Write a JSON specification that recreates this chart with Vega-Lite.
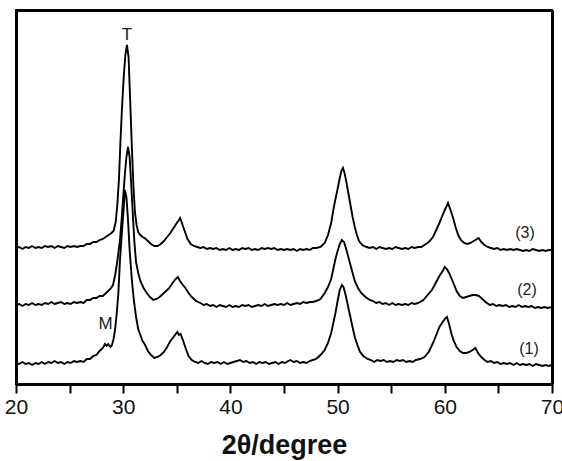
{
  "$schema": "https://vega.github.io/schema/vega-lite/v6.json",
  "width": 536,
  "height": 374,
  "autosize": {"type": "none"},
  "padding": {"left": 16, "top": 10, "right": 10, "bottom": 77},
  "background": "white",
  "config": {
    "view": {"stroke": "black", "strokeWidth": 2},
    "font": "Liberation Sans"
  },
  "resolve": {"axis": {"x": "independent", "y": "independent"}},
  "datasets": {
    "curves": [
      {"x":20.0,"I":22,"s":"1"},{"x":20.3,"I":21,"s":"1"},{"x":20.6,"I":23,"s":"1"},{"x":20.9,"I":21,"s":"1"},{"x":21.2,"I":22,"s":"1"},{"x":21.5,"I":20,"s":"1"},{"x":21.8,"I":22,"s":"1"},{"x":22.1,"I":21,"s":"1"},{"x":22.4,"I":23,"s":"1"},{"x":22.7,"I":21,"s":"1"},{"x":23.0,"I":23,"s":"1"},{"x":23.3,"I":22,"s":"1"},{"x":23.6,"I":24,"s":"1"},{"x":23.9,"I":22,"s":"1"},{"x":24.2,"I":23,"s":"1"},{"x":24.5,"I":21,"s":"1"},{"x":24.8,"I":23,"s":"1"},{"x":25.1,"I":22,"s":"1"},{"x":25.4,"I":24,"s":"1"},{"x":25.7,"I":23,"s":"1"},{"x":26.0,"I":24,"s":"1"},{"x":26.3,"I":23,"s":"1"},{"x":26.6,"I":26,"s":"1"},{"x":26.9,"I":26,"s":"1"},{"x":27.2,"I":29,"s":"1"},{"x":27.5,"I":30,"s":"1"},{"x":27.8,"I":34,"s":"1"},{"x":28.1,"I":37,"s":"1"},{"x":28.3,"I":41,"s":"1"},{"x":28.45,"I":39,"s":"1"},{"x":28.6,"I":41,"s":"1"},{"x":28.8,"I":38,"s":"1"},{"x":28.95,"I":40,"s":"1"},{"x":29.1,"I":46,"s":"1"},{"x":29.25,"I":56,"s":"1"},{"x":29.4,"I":72,"s":"1"},{"x":29.55,"I":92,"s":"1"},{"x":29.7,"I":125,"s":"1"},{"x":29.85,"I":148,"s":"1"},{"x":30.0,"I":170,"s":"1"},{"x":30.16,"I":195,"s":"1"},{"x":30.3,"I":188,"s":"1"},{"x":30.45,"I":165,"s":"1"},{"x":30.6,"I":135,"s":"1"},{"x":30.8,"I":106,"s":"1"},{"x":31.0,"I":84,"s":"1"},{"x":31.2,"I":68,"s":"1"},{"x":31.4,"I":56,"s":"1"},{"x":31.6,"I":50,"s":"1"},{"x":31.8,"I":44,"s":"1"},{"x":32.0,"I":41,"s":"1"},{"x":32.3,"I":34,"s":"1"},{"x":32.6,"I":30,"s":"1"},{"x":32.9,"I":27,"s":"1"},{"x":33.2,"I":28,"s":"1"},{"x":33.5,"I":30,"s":"1"},{"x":33.8,"I":33,"s":"1"},{"x":34.1,"I":38,"s":"1"},{"x":34.4,"I":44,"s":"1"},{"x":34.7,"I":48,"s":"1"},{"x":34.9,"I":51,"s":"1"},{"x":35.05,"I":53,"s":"1"},{"x":35.2,"I":50,"s":"1"},{"x":35.35,"I":51,"s":"1"},{"x":35.6,"I":44,"s":"1"},{"x":35.85,"I":36,"s":"1"},{"x":36.1,"I":29,"s":"1"},{"x":36.4,"I":25,"s":"1"},{"x":36.7,"I":23,"s":"1"},{"x":37.0,"I":22,"s":"1"},{"x":37.3,"I":24,"s":"1"},{"x":37.6,"I":22,"s":"1"},{"x":37.9,"I":21,"s":"1"},{"x":38.2,"I":23,"s":"1"},{"x":38.5,"I":22,"s":"1"},{"x":38.8,"I":23,"s":"1"},{"x":39.1,"I":21,"s":"1"},{"x":39.4,"I":23,"s":"1"},{"x":39.7,"I":21,"s":"1"},{"x":40.0,"I":22,"s":"1"},{"x":40.3,"I":23,"s":"1"},{"x":40.6,"I":24,"s":"1"},{"x":40.9,"I":25,"s":"1"},{"x":41.2,"I":23,"s":"1"},{"x":41.5,"I":24,"s":"1"},{"x":41.8,"I":22,"s":"1"},{"x":42.1,"I":23,"s":"1"},{"x":42.4,"I":21,"s":"1"},{"x":42.7,"I":23,"s":"1"},{"x":43.0,"I":22,"s":"1"},{"x":43.3,"I":23,"s":"1"},{"x":43.6,"I":21,"s":"1"},{"x":43.9,"I":22,"s":"1"},{"x":44.2,"I":23,"s":"1"},{"x":44.5,"I":21,"s":"1"},{"x":44.8,"I":23,"s":"1"},{"x":45.1,"I":22,"s":"1"},{"x":45.4,"I":24,"s":"1"},{"x":45.6,"I":25,"s":"1"},{"x":45.9,"I":23,"s":"1"},{"x":46.2,"I":24,"s":"1"},{"x":46.5,"I":22,"s":"1"},{"x":46.8,"I":23,"s":"1"},{"x":47.1,"I":22,"s":"1"},{"x":47.4,"I":24,"s":"1"},{"x":47.7,"I":25,"s":"1"},{"x":48.0,"I":26,"s":"1"},{"x":48.4,"I":30,"s":"1"},{"x":48.8,"I":35,"s":"1"},{"x":49.1,"I":42,"s":"1"},{"x":49.4,"I":52,"s":"1"},{"x":49.6,"I":62,"s":"1"},{"x":49.8,"I":72,"s":"1"},{"x":50.0,"I":84,"s":"1"},{"x":50.2,"I":95,"s":"1"},{"x":50.4,"I":100,"s":"1"},{"x":50.55,"I":98,"s":"1"},{"x":50.75,"I":90,"s":"1"},{"x":50.95,"I":80,"s":"1"},{"x":51.15,"I":70,"s":"1"},{"x":51.35,"I":60,"s":"1"},{"x":51.6,"I":48,"s":"1"},{"x":51.85,"I":40,"s":"1"},{"x":52.1,"I":33,"s":"1"},{"x":52.4,"I":29,"s":"1"},{"x":52.8,"I":26,"s":"1"},{"x":53.1,"I":25,"s":"1"},{"x":53.4,"I":23,"s":"1"},{"x":53.7,"I":25,"s":"1"},{"x":54.0,"I":24,"s":"1"},{"x":54.3,"I":25,"s":"1"},{"x":54.6,"I":23,"s":"1"},{"x":54.9,"I":24,"s":"1"},{"x":55.2,"I":23,"s":"1"},{"x":55.5,"I":25,"s":"1"},{"x":55.8,"I":24,"s":"1"},{"x":56.1,"I":25,"s":"1"},{"x":56.4,"I":23,"s":"1"},{"x":56.7,"I":24,"s":"1"},{"x":57.0,"I":23,"s":"1"},{"x":57.3,"I":25,"s":"1"},{"x":57.7,"I":26,"s":"1"},{"x":58.1,"I":28,"s":"1"},{"x":58.5,"I":33,"s":"1"},{"x":58.9,"I":42,"s":"1"},{"x":59.2,"I":50,"s":"1"},{"x":59.5,"I":58,"s":"1"},{"x":59.8,"I":63,"s":"1"},{"x":60.0,"I":66,"s":"1"},{"x":60.2,"I":68,"s":"1"},{"x":60.4,"I":61,"s":"1"},{"x":60.6,"I":52,"s":"1"},{"x":60.8,"I":45,"s":"1"},{"x":61.1,"I":38,"s":"1"},{"x":61.4,"I":34,"s":"1"},{"x":61.7,"I":32,"s":"1"},{"x":62.0,"I":32,"s":"1"},{"x":62.3,"I":33,"s":"1"},{"x":62.6,"I":35,"s":"1"},{"x":62.85,"I":37,"s":"1"},{"x":63.1,"I":32,"s":"1"},{"x":63.4,"I":28,"s":"1"},{"x":63.7,"I":25,"s":"1"},{"x":64.0,"I":23,"s":"1"},{"x":64.3,"I":24,"s":"1"},{"x":64.6,"I":22,"s":"1"},{"x":64.9,"I":23,"s":"1"},{"x":65.2,"I":21,"s":"1"},{"x":65.5,"I":22,"s":"1"},{"x":65.8,"I":21,"s":"1"},{"x":66.1,"I":22,"s":"1"},{"x":66.4,"I":20,"s":"1"},{"x":66.7,"I":22,"s":"1"},{"x":67.0,"I":20,"s":"1"},{"x":67.3,"I":21,"s":"1"},{"x":67.6,"I":20,"s":"1"},{"x":67.9,"I":21,"s":"1"},{"x":68.2,"I":19,"s":"1"},{"x":68.5,"I":21,"s":"1"},{"x":68.8,"I":20,"s":"1"},{"x":69.1,"I":19,"s":"1"},{"x":69.4,"I":20,"s":"1"},{"x":69.7,"I":19,"s":"1"},{"x":70.0,"I":20,"s":"1"},

      {"x":20.0,"I":80,"s":"2"},{"x":20.3,"I":81,"s":"2"},{"x":20.6,"I":79,"s":"2"},{"x":20.9,"I":81,"s":"2"},{"x":21.2,"I":80,"s":"2"},{"x":21.5,"I":82,"s":"2"},{"x":21.8,"I":80,"s":"2"},{"x":22.1,"I":81,"s":"2"},{"x":22.4,"I":80,"s":"2"},{"x":22.7,"I":82,"s":"2"},{"x":23.0,"I":81,"s":"2"},{"x":23.3,"I":83,"s":"2"},{"x":23.6,"I":81,"s":"2"},{"x":23.9,"I":82,"s":"2"},{"x":24.2,"I":83,"s":"2"},{"x":24.5,"I":81,"s":"2"},{"x":24.8,"I":82,"s":"2"},{"x":25.1,"I":81,"s":"2"},{"x":25.4,"I":83,"s":"2"},{"x":25.7,"I":82,"s":"2"},{"x":26.0,"I":83,"s":"2"},{"x":26.3,"I":82,"s":"2"},{"x":26.6,"I":85,"s":"2"},{"x":26.9,"I":85,"s":"2"},{"x":27.2,"I":87,"s":"2"},{"x":27.5,"I":87,"s":"2"},{"x":27.8,"I":89,"s":"2"},{"x":28.1,"I":89,"s":"2"},{"x":28.4,"I":92,"s":"2"},{"x":28.8,"I":96,"s":"2"},{"x":29.05,"I":100,"s":"2"},{"x":29.25,"I":110,"s":"2"},{"x":29.4,"I":120,"s":"2"},{"x":29.55,"I":132,"s":"2"},{"x":29.7,"I":145,"s":"2"},{"x":29.85,"I":165,"s":"2"},{"x":30.0,"I":188,"s":"2"},{"x":30.15,"I":210,"s":"2"},{"x":30.3,"I":228,"s":"2"},{"x":30.45,"I":238,"s":"2"},{"x":30.6,"I":228,"s":"2"},{"x":30.75,"I":200,"s":"2"},{"x":30.9,"I":170,"s":"2"},{"x":31.05,"I":142,"s":"2"},{"x":31.2,"I":123,"s":"2"},{"x":31.4,"I":112,"s":"2"},{"x":31.6,"I":104,"s":"2"},{"x":31.9,"I":97,"s":"2"},{"x":32.2,"I":92,"s":"2"},{"x":32.5,"I":88,"s":"2"},{"x":32.8,"I":85,"s":"2"},{"x":33.1,"I":86,"s":"2"},{"x":33.4,"I":88,"s":"2"},{"x":33.7,"I":91,"s":"2"},{"x":34.0,"I":94,"s":"2"},{"x":34.3,"I":97,"s":"2"},{"x":34.6,"I":102,"s":"2"},{"x":34.9,"I":106,"s":"2"},{"x":35.1,"I":108,"s":"2"},{"x":35.3,"I":104,"s":"2"},{"x":35.5,"I":101,"s":"2"},{"x":35.8,"I":97,"s":"2"},{"x":36.1,"I":92,"s":"2"},{"x":36.4,"I":88,"s":"2"},{"x":36.8,"I":84,"s":"2"},{"x":37.2,"I":82,"s":"2"},{"x":37.5,"I":80,"s":"2"},{"x":37.8,"I":81,"s":"2"},{"x":38.1,"I":79,"s":"2"},{"x":38.4,"I":80,"s":"2"},{"x":38.7,"I":78,"s":"2"},{"x":39.0,"I":80,"s":"2"},{"x":39.3,"I":79,"s":"2"},{"x":39.6,"I":78,"s":"2"},{"x":39.9,"I":80,"s":"2"},{"x":40.2,"I":78,"s":"2"},{"x":40.5,"I":79,"s":"2"},{"x":40.8,"I":78,"s":"2"},{"x":41.1,"I":80,"s":"2"},{"x":41.4,"I":79,"s":"2"},{"x":41.7,"I":80,"s":"2"},{"x":42.0,"I":78,"s":"2"},{"x":42.3,"I":79,"s":"2"},{"x":42.6,"I":80,"s":"2"},{"x":42.9,"I":79,"s":"2"},{"x":43.2,"I":81,"s":"2"},{"x":43.5,"I":79,"s":"2"},{"x":43.8,"I":80,"s":"2"},{"x":44.1,"I":81,"s":"2"},{"x":44.4,"I":80,"s":"2"},{"x":44.7,"I":81,"s":"2"},{"x":45.0,"I":80,"s":"2"},{"x":45.3,"I":82,"s":"2"},{"x":45.6,"I":80,"s":"2"},{"x":45.9,"I":81,"s":"2"},{"x":46.2,"I":82,"s":"2"},{"x":46.5,"I":81,"s":"2"},{"x":46.8,"I":83,"s":"2"},{"x":47.1,"I":82,"s":"2"},{"x":47.4,"I":83,"s":"2"},{"x":47.7,"I":83,"s":"2"},{"x":48.0,"I":84,"s":"2"},{"x":48.4,"I":86,"s":"2"},{"x":48.8,"I":92,"s":"2"},{"x":49.1,"I":98,"s":"2"},{"x":49.4,"I":106,"s":"2"},{"x":49.6,"I":116,"s":"2"},{"x":49.8,"I":126,"s":"2"},{"x":50.0,"I":134,"s":"2"},{"x":50.2,"I":141,"s":"2"},{"x":50.4,"I":145,"s":"2"},{"x":50.6,"I":143,"s":"2"},{"x":50.8,"I":136,"s":"2"},{"x":51.0,"I":128,"s":"2"},{"x":51.2,"I":120,"s":"2"},{"x":51.4,"I":112,"s":"2"},{"x":51.6,"I":104,"s":"2"},{"x":51.9,"I":97,"s":"2"},{"x":52.2,"I":92,"s":"2"},{"x":52.6,"I":88,"s":"2"},{"x":53.0,"I":85,"s":"2"},{"x":53.3,"I":84,"s":"2"},{"x":53.6,"I":82,"s":"2"},{"x":53.9,"I":83,"s":"2"},{"x":54.2,"I":81,"s":"2"},{"x":54.5,"I":82,"s":"2"},{"x":54.8,"I":80,"s":"2"},{"x":55.1,"I":82,"s":"2"},{"x":55.4,"I":80,"s":"2"},{"x":55.7,"I":81,"s":"2"},{"x":56.0,"I":80,"s":"2"},{"x":56.3,"I":81,"s":"2"},{"x":56.6,"I":80,"s":"2"},{"x":56.9,"I":82,"s":"2"},{"x":57.2,"I":81,"s":"2"},{"x":57.5,"I":82,"s":"2"},{"x":58.0,"I":85,"s":"2"},{"x":58.4,"I":90,"s":"2"},{"x":58.8,"I":95,"s":"2"},{"x":59.2,"I":103,"s":"2"},{"x":59.5,"I":109,"s":"2"},{"x":59.8,"I":114,"s":"2"},{"x":60.0,"I":118,"s":"2"},{"x":60.2,"I":116,"s":"2"},{"x":60.4,"I":112,"s":"2"},{"x":60.6,"I":107,"s":"2"},{"x":60.8,"I":102,"s":"2"},{"x":61.1,"I":94,"s":"2"},{"x":61.4,"I":89,"s":"2"},{"x":61.7,"I":87,"s":"2"},{"x":62.0,"I":88,"s":"2"},{"x":62.3,"I":89,"s":"2"},{"x":62.6,"I":90,"s":"2"},{"x":62.9,"I":90,"s":"2"},{"x":63.2,"I":89,"s":"2"},{"x":63.5,"I":86,"s":"2"},{"x":63.8,"I":83,"s":"2"},{"x":64.2,"I":80,"s":"2"},{"x":64.5,"I":81,"s":"2"},{"x":64.8,"I":79,"s":"2"},{"x":65.1,"I":80,"s":"2"},{"x":65.4,"I":79,"s":"2"},{"x":65.7,"I":80,"s":"2"},{"x":66.0,"I":78,"s":"2"},{"x":66.3,"I":79,"s":"2"},{"x":66.6,"I":78,"s":"2"},{"x":66.9,"I":80,"s":"2"},{"x":67.2,"I":78,"s":"2"},{"x":67.5,"I":79,"s":"2"},{"x":67.8,"I":78,"s":"2"},{"x":68.1,"I":79,"s":"2"},{"x":68.4,"I":77,"s":"2"},{"x":68.7,"I":78,"s":"2"},{"x":69.0,"I":77,"s":"2"},{"x":69.3,"I":78,"s":"2"},{"x":69.6,"I":77,"s":"2"},{"x":70.0,"I":78,"s":"2"},

      {"x":20.0,"I":137,"s":"3"},{"x":20.3,"I":138,"s":"3"},{"x":20.6,"I":136,"s":"3"},{"x":20.9,"I":138,"s":"3"},{"x":21.2,"I":137,"s":"3"},{"x":21.5,"I":139,"s":"3"},{"x":21.8,"I":137,"s":"3"},{"x":22.1,"I":138,"s":"3"},{"x":22.4,"I":137,"s":"3"},{"x":22.7,"I":139,"s":"3"},{"x":23.0,"I":138,"s":"3"},{"x":23.3,"I":139,"s":"3"},{"x":23.6,"I":137,"s":"3"},{"x":23.9,"I":139,"s":"3"},{"x":24.2,"I":138,"s":"3"},{"x":24.5,"I":137,"s":"3"},{"x":24.8,"I":139,"s":"3"},{"x":25.1,"I":138,"s":"3"},{"x":25.4,"I":139,"s":"3"},{"x":25.7,"I":138,"s":"3"},{"x":26.0,"I":139,"s":"3"},{"x":26.3,"I":139,"s":"3"},{"x":26.6,"I":141,"s":"3"},{"x":26.9,"I":141,"s":"3"},{"x":27.2,"I":143,"s":"3"},{"x":27.5,"I":143,"s":"3"},{"x":27.8,"I":145,"s":"3"},{"x":28.1,"I":146,"s":"3"},{"x":28.5,"I":149,"s":"3"},{"x":28.9,"I":152,"s":"3"},{"x":29.1,"I":154,"s":"3"},{"x":29.3,"I":163,"s":"3"},{"x":29.45,"I":180,"s":"3"},{"x":29.6,"I":205,"s":"3"},{"x":29.75,"I":245,"s":"3"},{"x":29.9,"I":280,"s":"3"},{"x":30.05,"I":308,"s":"3"},{"x":30.2,"I":330,"s":"3"},{"x":30.35,"I":340,"s":"3"},{"x":30.5,"I":328,"s":"3"},{"x":30.65,"I":285,"s":"3"},{"x":30.8,"I":240,"s":"3"},{"x":30.95,"I":200,"s":"3"},{"x":31.1,"I":172,"s":"3"},{"x":31.25,"I":160,"s":"3"},{"x":31.4,"I":153,"s":"3"},{"x":31.6,"I":150,"s":"3"},{"x":31.8,"I":148,"s":"3"},{"x":32.0,"I":147,"s":"3"},{"x":32.3,"I":144,"s":"3"},{"x":32.6,"I":141,"s":"3"},{"x":32.9,"I":139,"s":"3"},{"x":33.2,"I":139,"s":"3"},{"x":33.5,"I":141,"s":"3"},{"x":33.8,"I":144,"s":"3"},{"x":34.1,"I":148,"s":"3"},{"x":34.4,"I":152,"s":"3"},{"x":34.7,"I":157,"s":"3"},{"x":35.0,"I":162,"s":"3"},{"x":35.2,"I":165,"s":"3"},{"x":35.3,"I":167,"s":"3"},{"x":35.45,"I":163,"s":"3"},{"x":35.6,"I":158,"s":"3"},{"x":35.8,"I":152,"s":"3"},{"x":36.0,"I":146,"s":"3"},{"x":36.3,"I":141,"s":"3"},{"x":36.6,"I":139,"s":"3"},{"x":36.9,"I":138,"s":"3"},{"x":37.2,"I":137,"s":"3"},{"x":37.5,"I":138,"s":"3"},{"x":37.8,"I":136,"s":"3"},{"x":38.1,"I":137,"s":"3"},{"x":38.4,"I":136,"s":"3"},{"x":38.7,"I":137,"s":"3"},{"x":39.0,"I":135,"s":"3"},{"x":39.3,"I":136,"s":"3"},{"x":39.6,"I":135,"s":"3"},{"x":39.9,"I":137,"s":"3"},{"x":40.2,"I":135,"s":"3"},{"x":40.5,"I":136,"s":"3"},{"x":40.8,"I":135,"s":"3"},{"x":41.1,"I":137,"s":"3"},{"x":41.4,"I":136,"s":"3"},{"x":41.7,"I":137,"s":"3"},{"x":42.0,"I":135,"s":"3"},{"x":42.3,"I":136,"s":"3"},{"x":42.6,"I":135,"s":"3"},{"x":42.9,"I":137,"s":"3"},{"x":43.2,"I":136,"s":"3"},{"x":43.5,"I":137,"s":"3"},{"x":43.8,"I":136,"s":"3"},{"x":44.1,"I":137,"s":"3"},{"x":44.4,"I":135,"s":"3"},{"x":44.7,"I":136,"s":"3"},{"x":45.0,"I":135,"s":"3"},{"x":45.3,"I":136,"s":"3"},{"x":45.6,"I":135,"s":"3"},{"x":45.9,"I":136,"s":"3"},{"x":46.2,"I":134,"s":"3"},{"x":46.5,"I":136,"s":"3"},{"x":46.8,"I":135,"s":"3"},{"x":47.1,"I":136,"s":"3"},{"x":47.4,"I":135,"s":"3"},{"x":47.7,"I":137,"s":"3"},{"x":48.0,"I":137,"s":"3"},{"x":48.4,"I":138,"s":"3"},{"x":48.8,"I":142,"s":"3"},{"x":49.1,"I":150,"s":"3"},{"x":49.4,"I":162,"s":"3"},{"x":49.6,"I":175,"s":"3"},{"x":49.8,"I":186,"s":"3"},{"x":50.0,"I":196,"s":"3"},{"x":50.2,"I":207,"s":"3"},{"x":50.35,"I":214,"s":"3"},{"x":50.5,"I":217,"s":"3"},{"x":50.65,"I":212,"s":"3"},{"x":50.8,"I":204,"s":"3"},{"x":51.0,"I":192,"s":"3"},{"x":51.2,"I":180,"s":"3"},{"x":51.4,"I":168,"s":"3"},{"x":51.6,"I":158,"s":"3"},{"x":51.8,"I":150,"s":"3"},{"x":52.0,"I":144,"s":"3"},{"x":52.3,"I":140,"s":"3"},{"x":52.7,"I":138,"s":"3"},{"x":53.0,"I":137,"s":"3"},{"x":53.3,"I":138,"s":"3"},{"x":53.6,"I":136,"s":"3"},{"x":53.9,"I":138,"s":"3"},{"x":54.2,"I":137,"s":"3"},{"x":54.5,"I":136,"s":"3"},{"x":54.8,"I":137,"s":"3"},{"x":55.1,"I":136,"s":"3"},{"x":55.4,"I":138,"s":"3"},{"x":55.7,"I":137,"s":"3"},{"x":56.0,"I":136,"s":"3"},{"x":56.3,"I":137,"s":"3"},{"x":56.6,"I":136,"s":"3"},{"x":56.9,"I":138,"s":"3"},{"x":57.2,"I":137,"s":"3"},{"x":57.5,"I":138,"s":"3"},{"x":57.8,"I":138,"s":"3"},{"x":58.1,"I":140,"s":"3"},{"x":58.5,"I":143,"s":"3"},{"x":58.9,"I":148,"s":"3"},{"x":59.2,"I":155,"s":"3"},{"x":59.5,"I":162,"s":"3"},{"x":59.8,"I":170,"s":"3"},{"x":60.0,"I":175,"s":"3"},{"x":60.3,"I":182,"s":"3"},{"x":60.5,"I":176,"s":"3"},{"x":60.75,"I":168,"s":"3"},{"x":61.0,"I":158,"s":"3"},{"x":61.25,"I":150,"s":"3"},{"x":61.5,"I":145,"s":"3"},{"x":61.8,"I":142,"s":"3"},{"x":62.1,"I":141,"s":"3"},{"x":62.4,"I":142,"s":"3"},{"x":62.7,"I":144,"s":"3"},{"x":63.0,"I":146,"s":"3"},{"x":63.15,"I":147,"s":"3"},{"x":63.4,"I":143,"s":"3"},{"x":63.7,"I":140,"s":"3"},{"x":64.0,"I":138,"s":"3"},{"x":64.3,"I":137,"s":"3"},{"x":64.6,"I":136,"s":"3"},{"x":64.9,"I":137,"s":"3"},{"x":65.2,"I":135,"s":"3"},{"x":65.5,"I":136,"s":"3"},{"x":65.8,"I":135,"s":"3"},{"x":66.1,"I":136,"s":"3"},{"x":66.4,"I":135,"s":"3"},{"x":66.7,"I":136,"s":"3"},{"x":67.0,"I":135,"s":"3"},{"x":67.3,"I":134,"s":"3"},{"x":67.6,"I":135,"s":"3"},{"x":67.9,"I":134,"s":"3"},{"x":68.2,"I":136,"s":"3"},{"x":68.5,"I":135,"s":"3"},{"x":68.8,"I":134,"s":"3"},{"x":69.1,"I":135,"s":"3"},{"x":69.4,"I":134,"s":"3"},{"x":69.7,"I":135,"s":"3"},{"x":70.0,"I":135,"s":"3"}
    ],
    "labels": [
      {"x":30.35,"I":350,"t":"T","size":"big"},
      {"x":28.35,"I":61.5,"t":"M","size":"big"},
      {"x":67.48,"I":152,"t":"(3)","size":"small"},
      {"x":67.67,"I":95,"t":"(2)","size":"small"},
      {"x":67.85,"I":36,"t":"(1)","size":"small"}
    ]
  },
  "layer": [
    {
      "data": {"name": "curves"},
      "mark": {"type": "line", "color": "black", "strokeWidth": 1.9, "interpolate": "linear"},
      "encoding": {
        "x": {
          "field": "x", "type": "quantitative",
          "scale": {"domain": [20, 70], "nice": false, "zero": false},
          "axis": {
            "orient": "bottom",
            "values": [20, 25, 30, 35, 40, 45, 50, 55, 60, 65, 70],
            "labelExpr": "datum.value % 10 === 0 ? datum.label : ''",
            "domain": true, "domainColor": "black", "domainWidth": 3, "grid": false,
            "tickColor": "black", "tickWidth": 2, "tickSize": 9,
            "labelFont": "Liberation Sans", "labelFontSize": 21, "labelColor": "#111",
            "labelPadding": 3, "labelFlush": false, "labelOverlap": false,
            "title": "2θ/degree", "titleFont": "Liberation Sans", "titleFontSize": 27,
            "titleFontWeight": "bold", "titleColor": "#111", "titlePadding": 15,
            "encode": {"ticks": {"update": {"y2": {"signal": "datum.value % 10 === 0 ? 9 : 5"}}}}
          }
        },
        "y": {
          "field": "I", "type": "quantitative",
          "scale": {"domain": [1, 375], "nice": false, "zero": false},
          "axis": {"orient": "left", "domain": true, "domainColor": "black", "domainWidth": 3, "ticks": false, "labels": false, "grid": false, "title": null}
        },
        "detail": {"field": "s"}
      }
    },
    {
      "data": {"name": "labels"},
      "mark": {"type": "text", "font": "Liberation Sans", "color": "#222", "align": "center", "baseline": "middle"},
      "encoding": {
        "x": {"field": "x", "type": "quantitative",
          "axis": {"orient": "top", "domain": true, "domainColor": "black", "domainWidth": 3, "ticks": false, "labels": false, "grid": false, "title": null}},
        "y": {"field": "I", "type": "quantitative",
          "axis": {"orient": "right", "domain": true, "domainColor": "black", "domainWidth": 3, "ticks": false, "labels": false, "grid": false, "title": null}},
        "text": {"field": "t"},
        "size": {"field": "size", "type": "nominal", "scale": {"domain": ["big", "small"], "range": [17, 16]}, "legend": null}
      }
    }
  ]
}
